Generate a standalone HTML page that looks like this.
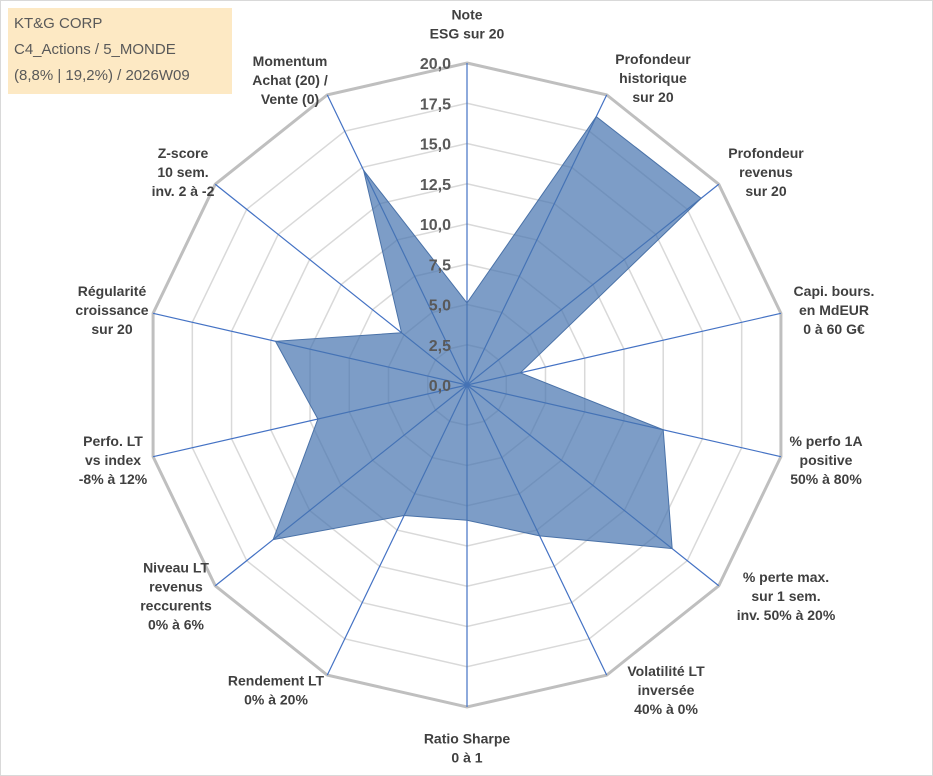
<!DOCTYPE html>
<html><head><meta charset="utf-8">
<style>
body{margin:0;background:#fff;font-family:"Liberation Sans",Arial,sans-serif;}
#wrap{position:relative;width:933px;height:776px;overflow:hidden;}
svg text{font-family:"Liberation Sans",Arial,sans-serif;}
</style></head>
<body>
<div id="wrap">
<svg id="chart" width="933" height="776">
<rect x="0.5" y="0.5" width="932" height="775" fill="#fff" stroke="#d9d9d9"/>
<rect x="8" y="8" width="224" height="86" fill="#fde9c4"/>
<text x="14" y="28" font-size="15" fill="#595959">KT&amp;G CORP</text>
<text x="14" y="54" font-size="15" fill="#595959">C4_Actions / 5_MONDE</text>
<text x="14" y="80" font-size="15" fill="#595959">(8,8% | 19,2%) / 2026W09</text>
<g id="grid"></g><g id="axes"></g><g id="series"></g><g id="ticks"></g><g id="labels"></g>
</svg>
</div>
<script>
const categories=[["Note","ESG sur 20"],["Profondeur","historique","sur 20"],["Profondeur","revenus","sur 20"],["Capi. bours.","en MdEUR","0 à 60 G€"],["% perfo 1A","positive","50% à 80%"],["% perte max.","sur 1 sem.","inv. 50% à 20%"],["Volatilité LT","inversée","40% à 0%"],["Ratio Sharpe","0 à 1"],["Rendement LT","0% à 20%"],["Niveau LT","revenus","reccurents","0% à 6%"],["Perfo. LT","vs index","-8% à 12%"],["Régularité","croissance","sur 20"],["Z-score","10 sem.","inv. 2 à -2"],["Momentum","Achat (20) /","Vente (0)"]];
const values=[5.1,18.5,18.6,3.4,12.5,16.3,10.4,8.4,9,15.4,9.5,12.2,5.2,14.8];
const tickValues=[0,2.5,5,7.5,10,12.5,15,17.5,20];
const tickLabels=["0,0","2,5","5,0","7,5","10,0","12,5","15,0","17,5","20,0"];
// layout: label block centers (x, vertical center y)
const labelPos=[[467,24],[653,78],[766,172],[834,310],[826,460],[786,596],[666,690],[467,748],[276,690],[176,596],[113,460],[112,310],[183,172],[290,80]];
const NS="http://www.w3.org/2000/svg";
const cx=467,cy=385,R=322,maxV=20,N=categories.length;
function ang(i){return i*2*Math.PI/N;}
function px(i,v){return cx+Math.sin(ang(i))*v/maxV*R;}
function py(i,v){return cy-Math.cos(ang(i))*v/maxV*R;}
function mk(tag,attrs,parent){const e=document.createElementNS(NS,tag);for(const k in attrs)e.setAttribute(k,attrs[k]);parent.appendChild(e);return e;}
const grid=document.getElementById('grid'),axes=document.getElementById('axes'),series=document.getElementById('series'),ticks=document.getElementById('ticks'),labels=document.getElementById('labels');
tickValues.forEach((t,k)=>{if(t===0)return;
 const pts=categories.map((c,i)=>px(i,t)+','+py(i,t)).join(' ');
 const outer=t===maxV;
 const g=mk('polygon',{points:pts,fill:'none',stroke:outer?'#bfbfbf':'#d9d9d9','stroke-width':outer?3:1.5},grid);
 
 
});
categories.forEach((c,i)=>{
 const l=mk('line',{x1:cx,y1:cy,x2:px(i,maxV),y2:py(i,maxV),stroke:'#4472c4','stroke-width':1.2},axes);
 
 
});
const poly=mk('polygon',{points:values.map((v,i)=>px(i,v)+','+py(i,v)).join(' '),fill:'rgba(70,115,175,0.7)',stroke:'#4a72a8','stroke-width':1},series);


tickValues.forEach((t,k)=>{
 const tx=mk('text',{x:cx-16,y:py(0,t)+6,'text-anchor':'end','font-size':16,'font-weight':'bold',fill:'#595959'},ticks);
 tx.textContent=tickLabels[k];
 
 
});
categories.forEach((lines,i)=>{
 const lx=labelPos[i][0],lh=19;
 const y0=labelPos[i][1]-(lines.length-1)*lh/2+5;
 const t=mk('text',{x:lx,y:y0,'text-anchor':'middle','font-size':14,'font-weight':'bold',fill:'#404040'},labels);
 
 
 lines.forEach((ln,j)=>{const sp=mk('tspan',{x:lx,dy:j?lh:0},t);sp.textContent=ln;});
});
</script>
</body></html>
